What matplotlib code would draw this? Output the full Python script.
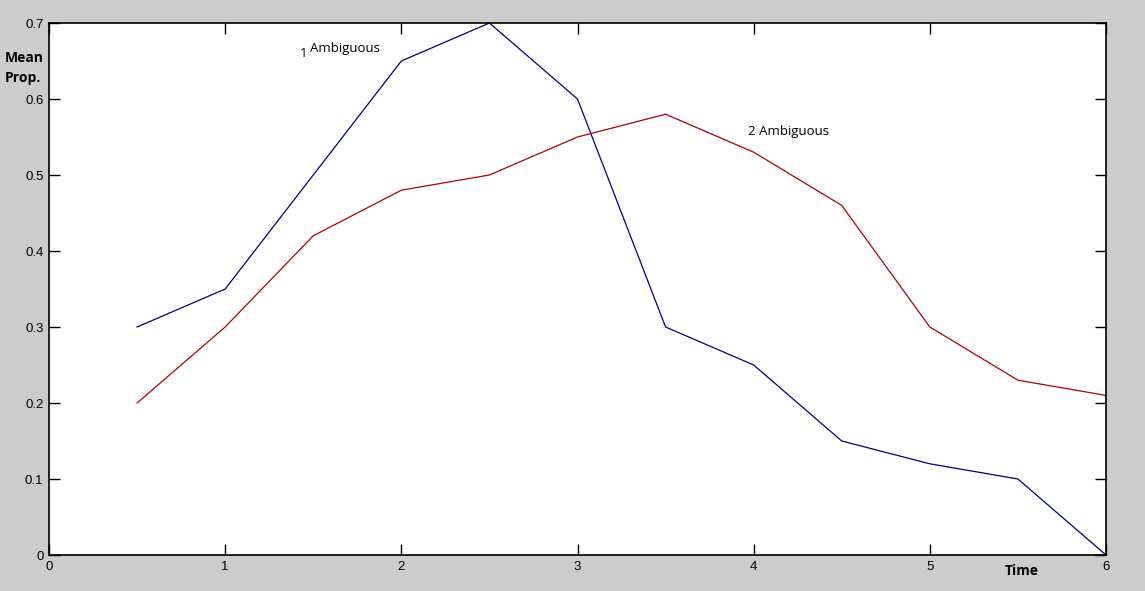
import matplotlib.pyplot as plt

time = [0.5, 1, 1.5, 2, 2.5, 3, 3.5, 4, 4.5, 5, 5.5, 6]
one_ambig = [0.30, 0.35, 0.50, 0.65, 0.70, 0.60, 0.30, 0.25, 0.15, 0.12, 0.10, 0.00]
two_ambig = [0.20, 0.30, 0.42, 0.48, 0.50, 0.55, 0.58, 0.53, 0.46, 0.30, 0.23, 0.21]
xticks = [0, 1, 2, 3, 4, 5, 6]
yticks = [0, 0.1, 0.2, 0.3, 0.4, 0.5, 0.6, 0.7]

fig = plt.figure(figsize=(11.45, 5.91), dpi=100, facecolor='#cccccc')
ax = fig.add_axes([49/1145, 1 - 555/591, 1057/1145, 532/591])

ax.plot(time, one_ambig, color='#000080', lw=0.9)
ax.plot(time, two_ambig, color='#b00000', lw=0.9)

ax.set_xlim(0, 6)
ax.set_ylim(0, 0.7)
ax.set_xticks(xticks)
ax.set_yticks(yticks)
ax.set_xticklabels([str(t) for t in xticks])
ax.set_yticklabels(['0', '0.1', '0.2', '0.3', '0.4', '0.5', '0.6', '0.7'])
ax.tick_params(direction='in', length=8, width=1, top=True, right=True,
               labelsize=9.5, pad=4, colors='black')
for lab in ax.get_xticklabels() + ax.get_yticklabels():
    lab.set_family('Liberation Sans')
for s in ax.spines.values():
    s.set_linewidth(1.2)

ax.text(1.425, 0.655, '1', fontsize=9.5, family='Open Sans')
ax.text(1.48, 0.662, 'Ambiguous', fontsize=9.5, family='Open Sans')
ax.text(3.97, 0.553, '2 Ambiguous', fontsize=9.5, family='Open Sans')

fig.text(5/1145, 1 - 68/591, 'Mean\nProp.', fontsize=10, fontweight='bold',
         family='Open Sans', va='center', linespacing=1.6)
fig.text(1005/1145, 1 - 571/591, 'Time', fontsize=10, fontweight='bold',
         family='Open Sans', va='center')

fig.savefig('out.png', dpi=100, facecolor=fig.get_facecolor())
